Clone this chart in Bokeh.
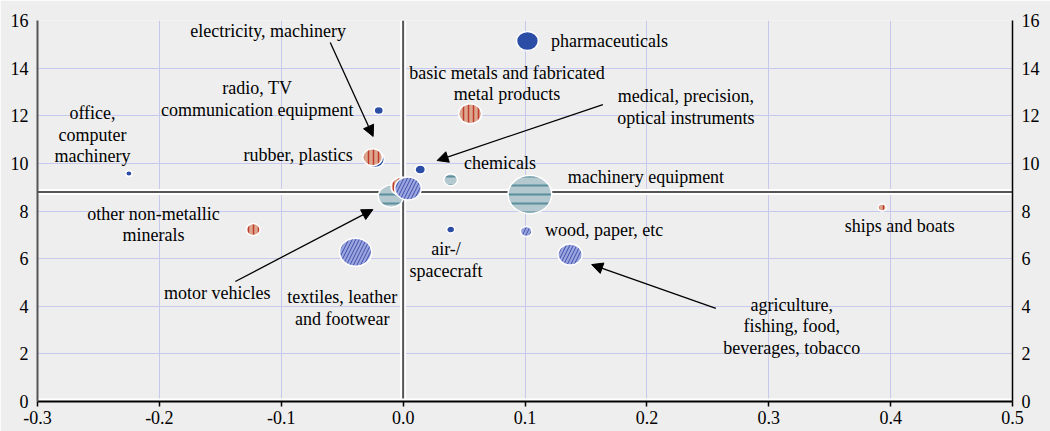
from bokeh.plotting import figure
from bokeh.models import (ColumnDataSource, Range1d, LinearAxis, FixedTicker,
                          NumeralTickFormatter, Span, Arrow, NormalHead)
from bokeh.core.properties import value
from bokeh.embed import file_html
from bokeh.resources import INLINE

# ---------------- data ----------------
sectors = ["pharmaceuticals", "office, computer machinery", "radio, TV communication equipment",
           "medical, precision, optical instruments", "air-/spacecraft", "electricity, machinery",
           "chemicals", "machinery equipment", "motor vehicles",
           "basic metals and fabricated metal products", "rubber, plastics",
           "other non-metallic minerals", "ships and boats", "coke, refined petroleum",
           "other manufacturing", "textiles, leather and footwear", "wood, paper, etc",
           "agriculture, fishing, food, beverages, tobacco"]
group = ["high", "high", "high", "high", "high", "high",
         "medhigh", "medhigh", "medhigh",
         "medlow", "medlow", "medlow", "medlow", "medlow",
         "low", "low", "low", "low"]
x_val = [0.102, -0.225, -0.020, 0.014, 0.039, -0.023,
         0.039, 0.104, -0.010,
         0.055, -0.025, -0.123, 0.393, -0.001,
         0.004, -0.039, 0.101, 0.137]
y_val = [15.14, 9.58, 12.22, 9.74, 7.22, 10.16,
         9.31, 8.69, 8.62,
         12.08, 10.26, 7.22, 8.15, 9.03,
         8.95, 6.27, 7.14, 6.17]
weight = [19, 5.5, 8, 9, 7, 16,
          12, 38, 22,
          20, 17, 12, 7, 19,
          23, 28, 10, 21]

# label texts and their anchor points (annotation layout)
label_text = ["pharmaceuticals", "basic metals and fabricated\nmetal products",
              "electricity, machinery", "radio, TV\ncommunication equipment",
              "office,\ncomputer\nmachinery", "rubber, plastics",
              "medical, precision,\noptical instruments", "chemicals",
              "machinery equipment", "ships and boats",
              "other non-metallic\nminerals", "air-/\nspacecraft", "wood, paper, etc",
              "motor vehicles", "textiles, leather\nand footwear",
              "agriculture,\nfishing, food,\nbeverages, tobacco"]
label_x = [0.1213, 0.0852, -0.1107, -0.1197, -0.2549, -0.0861, 0.2320, 0.0795,
           0.1992, 0.4074, -0.2049, 0.0352, 0.1164, -0.1525, -0.0500, 0.3189]
label_y = [15.12, 13.36, 15.58, 12.70, 11.21, 10.37, 12.37, 10.00,
           9.41, 7.35, 7.43, 5.94, 7.22, 4.54, 3.93, 3.15]
label_align = ["left", "center", "center", "center", "center", "center", "center", "center",
               "center", "center", "center", "center", "left", "center", "center", "center"]

# arrows: (x_start, y_start, x_end, y_end)
arrows = [(-0.0598, 15.08, -0.0246, 11.13),
          (0.1639, 12.47, 0.0279, 10.12),
          (-0.1377, 5.04, -0.0248, 8.06),
          (0.2566, 3.91, 0.1547, 5.75)]

x_ticks = [-0.3, -0.2, -0.1, 0.0, 0.1, 0.2, 0.3, 0.4, 0.5]
y_ticks = [0, 2, 4, 6, 8, 10, 12, 14, 16]
quad_x, quad_y = 0.0, 8.8

# ---------------- styles ----------------
styles = {
    "high":    dict(fill_color="#2B4DA6", hatch_pattern=None, hatch_color=None, hatch_scale=6, hatch_weight=1),
    "medhigh": dict(fill_color="#B4C8CF", hatch_pattern="horizontal_line", hatch_color="#5A8F9C", hatch_scale=9, hatch_weight=2),
    "medlow":  dict(fill_color="#DCA78F", hatch_pattern="vertical_line", hatch_color="#C0392B", hatch_scale=5, hatch_weight=1.5),
    "low":     dict(fill_color="#9CA5DF", hatch_pattern="right_diagonal_line", hatch_color="#3B50A8", hatch_scale=7, hatch_weight=1),
}
FONT = "Liberation Serif"
BG = "#EEEEEE"

p = figure(width=1050, height=431, x_range=Range1d(-0.3, 0.5), y_range=Range1d(0, 16),
           output_backend="svg", toolbar_location=None,
           min_border_left=37, min_border_right=38, min_border_top=20, min_border_bottom=30,
           background_fill_color=BG, border_fill_color=BG, outline_line_color=None)

# grid
p.xgrid.ticker = FixedTicker(ticks=x_ticks)
p.ygrid.ticker = FixedTicker(ticks=y_ticks)
for g in (p.xgrid, p.ygrid):
    g.grid_line_color = "#C6C9EC"
    g.grid_line_width = 1

# quadrant lines
for loc, dim in ((quad_y, "width"), (quad_x, "height")):
    p.add_layout(Span(location=loc, dimension=dim, line_color="white", line_width=6, level="underlay"))
    p.add_layout(Span(location=loc, dimension=dim, line_color="#555555", line_width=2, level="underlay"))
p.add_layout(Span(location=0, dimension="width", line_color="white", line_width=6, level="underlay"))

# axes
xa = p.xaxis[0]
xa.ticker = FixedTicker(ticks=x_ticks)
xa.formatter = NumeralTickFormatter(format="0.0")
xa.axis_line_color = "black"
xa.axis_line_width = 2
xa.major_tick_out = 5
xa.major_tick_in = 0
xa.major_tick_line_color = "black"
xa.major_tick_line_width = 1.5
xa.minor_tick_line_color = None
xa.minor_tick_out = 0
xa.major_label_standoff = 4

ya = p.yaxis[0]
ya.ticker = FixedTicker(ticks=y_ticks)
ya.axis_line_color = "#555555"
ya.axis_line_width = 2

ra = LinearAxis(ticker=FixedTicker(ticks=y_ticks), axis_line_color="black", axis_line_width=1.5)
p.add_layout(ra, "right")

for ax in (ya, ra):
    ax.major_tick_line_color = None
    ax.minor_tick_line_color = None
    ax.major_tick_out = 0
    ax.major_tick_in = 0
    ax.minor_tick_out = 0
    ax.minor_tick_in = 0
    ax.major_label_standoff = 9

for ax in (xa, ya, ra):
    ax.major_label_text_font = FONT
    ax.major_label_text_font_size = "18px"
    ax.major_label_text_color = "black"

# bubbles, drawn group by group
for gname in ["high", "medhigh", "medlow", "low"]:
    idx = [i for i, g in enumerate(group) if g == gname]
    src = ColumnDataSource(dict(
        x=[x_val[i] for i in idx], y=[y_val[i] for i in idx],
        w=[weight[i] * 1.15 for i in idx], h=[weight[i] for i in idx],
        name=[sectors[i] for i in idx]))
    st = styles[gname]
    kw = dict(fill_color=st["fill_color"], line_color="white", line_width=1.5)
    if st["hatch_pattern"]:
        kw.update(hatch_pattern=st["hatch_pattern"], hatch_color=st["hatch_color"],
                  hatch_scale=st["hatch_scale"], hatch_weight=st["hatch_weight"])
    p.ellipse(x="x", y="y", width="w", height="h", width_units="screen", height_units="screen",
              source=src, **kw)

# labels
lsrc = ColumnDataSource(dict(x=label_x, y=label_y, text=label_text, align=label_align))
p.text(x="x", y="y", text="text", source=lsrc, text_align="align", text_baseline="middle",
       text_font=value(FONT), text_font_size="18px", text_color="black", text_line_height=1.07)

# arrows
for (xs, ys, xe, ye) in arrows:
    p.add_layout(Arrow(end=NormalHead(size=11, fill_color="black", line_color="black"),
                       x_start=xs, y_start=ys, x_end=xe, y_end=ye,
                       line_color="black", line_width=1.3))

open("out.html", "w").write(file_html(p, INLINE))
